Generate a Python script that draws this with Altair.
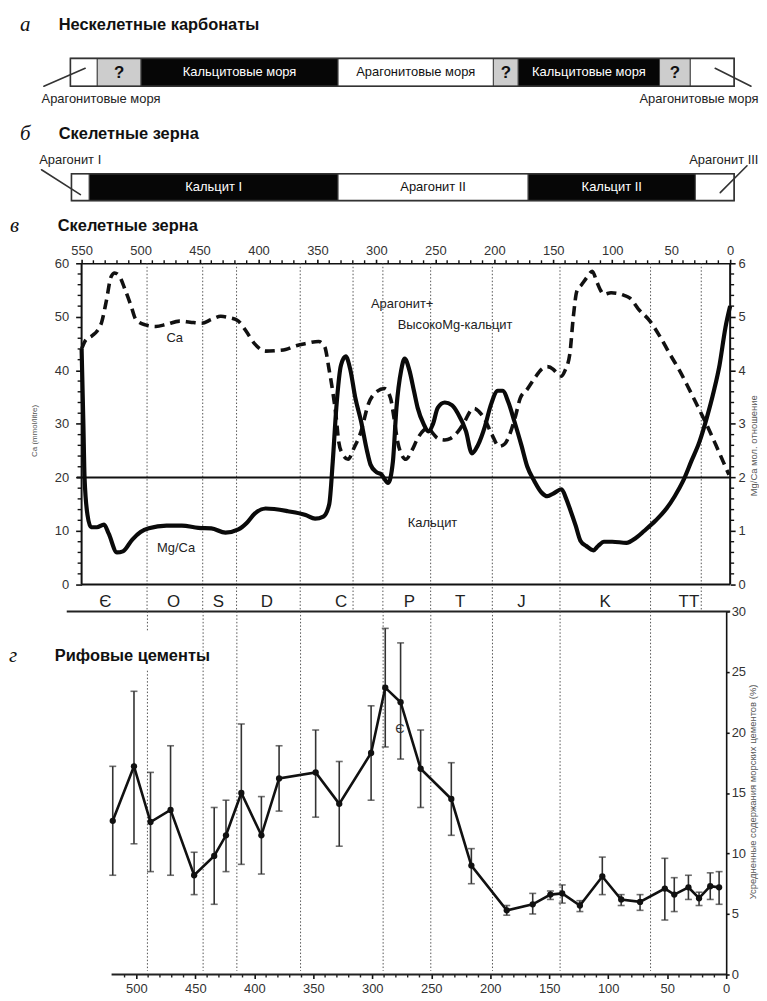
import altair as alt
import pandas as pd

# ---------------- data ----------------
# Panel a: non-skeletal carbonates, segments (Ma)
A_START = [559.5, 536.7, 499.6, 332.5, 200.8, 179.7, 59.9, 33.8]
A_END = [536.7, 499.6, 332.5, 200.8, 179.7, 59.9, 33.8, -3.4]
A_KIND = ["arag", "unk", "calc", "arag", "unk", "calc", "unk", "arag"]
A_LABEL = ["", "?", "Кальцитовые моря", "Арагонитовые моря", "?", "Кальцитовые моря", "?", ""]

# Panel b: skeletal grains
B_START = [558.6, 543.5, 332.5, 171.3, 29.5]
B_END = [543.5, 332.5, 171.3, 29.5, -3.4]
B_KIND = ["arag", "calc", "arag", "calc", "arag"]
B_LABEL = ["", "Кальцит I", "Арагонит II", "Кальцит II", ""]

# Panel c: Ca (dashed, left axis) and Mg/Ca (solid, right axis)
CA_AGE = [550, 547, 541, 537, 533, 529, 525, 522, 518, 513, 508, 504, 496, 487, 478, 467, 458, 448,
          440, 432, 424, 417, 411, 403, 394, 385, 377, 368, 360, 349, 344, 340, 337, 334, 332, 329,
          324, 319, 313, 307, 300, 293, 288, 285, 282, 278, 275, 270, 265, 260, 256, 252, 248, 242,
          237, 231, 225, 220, 217, 213, 208, 202, 196, 191, 187, 182, 178, 172, 166, 160, 155, 150,
          147, 143, 140, 136, 133, 130, 126, 121, 117, 113, 110, 107, 101, 96, 90, 85, 78, 68, 60,
          51, 43, 35, 28, 20, 12, 6, 1]
CA_VAL = [44, 45.5, 46.5, 47.3, 49, 53, 57.5, 58.2, 57.6, 55, 52, 49.5, 48.5, 48.2, 48.6, 49.2, 49,
          48.8, 49.5, 50.1, 49.8, 49.2, 47.5, 44.9, 43.6, 43.7, 43.9, 44.6, 45, 45.4, 44.5, 40, 36,
          31, 26.7, 24.5, 23.4, 25.5, 28.6, 33.6, 36, 36.6, 34.8, 31, 26.7, 24, 23.4, 25, 27.3, 28.8,
          29.2, 28.2, 27.3, 27, 27.3, 28.5, 30.5, 32.5, 32.9, 32.3, 30.8, 28, 25.8, 26.3, 28, 31.5,
          34.8, 36.5, 38.5, 40.2, 40.7, 40.2, 39.5, 38.9, 40, 43, 50, 54.8, 56, 57.5, 58.5, 56.5, 55,
          54.2, 54.5, 54.4, 54, 53.5, 51.5, 49.2, 46.5, 43, 40, 36.6, 33.5, 29.9, 26, 23, 20.5]

MG_AGE = [550, 548.5, 547.5, 545, 542, 537, 531, 527, 520, 515, 507, 500, 493, 478, 465, 451, 440,
          428, 417, 410, 403, 394, 375, 360, 352, 345, 340, 337, 334, 330, 326, 322, 318, 313, 308,
          305, 300, 296, 290, 286, 283, 279, 276, 272, 268, 265, 260, 256, 252, 248, 242, 236, 231,
          224, 219, 214, 208, 203, 197, 193, 188, 183, 177, 172, 166, 160, 155, 150, 143, 139, 136,
          131, 127, 122, 116, 112, 107, 100, 88, 80, 73, 63, 54, 47, 40, 33, 26, 20, 14, 9, 4, 0]
MG_VAL = [4.4, 3.0, 2.0, 1.3, 1.07, 1.07, 1.12, 0.95, 0.6, 0.62, 0.84, 0.98, 1.05, 1.1, 1.1, 1.06,
          1.05, 0.97, 1.03, 1.15, 1.33, 1.42, 1.37, 1.3, 1.23, 1.27, 1.5, 2.3, 3.3, 4.1, 4.26, 4.0,
          3.5, 3.05, 2.5, 2.24, 2.1, 2.06, 1.9, 2.3, 3.3, 4.0, 4.22, 4.0, 3.6, 3.3, 3.0, 2.86, 3.0,
          3.3, 3.4, 3.35, 3.2, 2.86, 2.45, 2.6, 2.95, 3.35, 3.62, 3.62, 3.4, 3.05, 2.6, 2.2, 1.93,
          1.72, 1.65, 1.7, 1.78, 1.6, 1.42, 1.1, 0.82, 0.72, 0.64, 0.72, 0.8, 0.8, 0.78, 0.87, 1.0,
          1.2, 1.42, 1.65, 1.93, 2.3, 2.67, 3.1, 3.6, 4.1, 4.8, 5.2]

PERIOD_NAMES = ["Є", "O", "S", "D", "C", "P", "T", "J", "K", "TT"]
PERIOD_MID = [530, 472, 434, 393, 330, 272, 229, 177, 106, 35]
BOUND_C = [494.5, 447.3, 418.6, 364.6, 319.8, 294.5, 254, 201.7, 144.3, 67.5, 24.5]
BOUND_D = [490.6, 443.4, 414.8, 360.8, 290.8, 250.4, 198.1, 140.8, 64.1]

# Panel d: reef cements (%), mean and error bar limits
CEM_AGE = [520, 502, 488, 471, 451, 434, 424, 411, 394, 379, 348, 328, 301, 289, 276, 259, 233,
           216, 186, 164, 149, 139, 124, 105, 89, 73, 52, 44, 32, 23, 13.5, 6]
CEM_VAL = [12.7, 17.2, 12.6, 13.6, 8.2, 9.8, 11.5, 15.0, 11.5, 16.2, 16.7, 14.1, 18.3, 23.7, 22.5,
           17.0, 14.5, 9.0, 5.3, 5.8, 6.6, 6.7, 5.7, 8.1, 6.2, 6.0, 7.1, 6.6, 7.2, 6.3, 7.3, 7.2]
CEM_LO = [8.2, 10.8, 8.5, 8.2, 6.6, 5.8, 8.5, 9.1, 8.3, 13.5, 13.0, 10.6, 14.4, 18.8, 17.8, 13.8,
          11.5, 7.5, 4.9, 5.0, 6.2, 5.9, 5.2, 6.6, 5.7, 5.3, 4.5, 5.2, 6.2, 5.7, 6.2, 5.8]
CEM_HI = [17.2, 23.4, 16.7, 18.9, 10.1, 13.8, 14.4, 20.7, 14.7, 18.9, 20.2, 17.6, 22.2, 28.6, 27.4,
          20.2, 17.5, 10.4, 5.7, 6.7, 6.9, 7.4, 6.1, 9.7, 6.6, 6.6, 9.6, 8.0, 8.2, 6.8, 8.4, 8.5]

TOP_TICKS = [550, 500, 450, 400, 350, 300, 250, 200, 150, 100, 50, 0]
D_TICKS = [500, 450, 400, 350, 300, 250, 200, 150, 100, 50, 0]

# ---------------- layout ----------------
FONT = "Liberation Sans"
SERIF = "Liberation Serif"
WC, WD = 652, 648
HA, HB, HC, HD = 102, 152, 350, 365
TITLE_FS = 16.5
BAR_FS = 13

XC = alt.Scale(domain=[550, 0], nice=False, zero=False)
XD = alt.Scale(domain=[546.4, 0], nice=False, zero=False)
YCA = alt.Scale(domain=[-5.0155, 60], nice=False, zero=False)
YMG = alt.Scale(domain=[-0.50155, 6], nice=False, zero=False)
YD = alt.Scale(domain=[0, 30], nice=False, zero=False)

AX = dict(labelFontSize=13, labelFont=FONT, labelColor="#333", grid=False, labelFlush=False,
          titleFont=FONT, titleFontWeight="normal", titleColor="#555", tickColor="#111",
          tickWidth=1.6, domainColor="#111", domainWidth=1.6)
AX_TOP = alt.Axis(orient="top", values=TOP_TICKS, title=None, tickSize=4, labelPadding=2, **AX)
AX_LEFT = alt.Axis(orient="left", values=[0, 10, 20, 30, 40, 50, 60], domain=False, tickSize=6,
                   labelPadding=7, title="Ca (mmol/litre)", titleFontSize=8, titleAngle=270,
                   titleX=-43, titleY=168, **AX)
AX_RIGHT = alt.Axis(orient="right", values=[0, 1, 2, 3, 4, 5, 6], domain=False, tickSize=5,
                    labelPadding=3, title="Mg/Ca мол. отношение", titleFontSize=9.5,
                    titleAngle=270, titleX=28, titleY=183, **AX)
AX_DX = alt.Axis(orient="bottom", values=D_TICKS, domain=False, title=None, tickSize=4,
                 labelPadding=4, **AX)
AX_DY = alt.Axis(orient="right", values=[0, 5, 10, 15, 20, 25, 30], tickSize=3, labelPadding=2,
                 title="Усредненные содержания морских цементов (%)", titleFontSize=9.5,
                 titleAngle=270, titleX=31, titleY=181, **AX)


def label(text, x, y, size, weight="normal", style="normal", family=FONT, align="left",
          color="#111"):
    return alt.Chart(pd.DataFrame({"t": [text]})).mark_text(
        align=align, baseline="middle", fontSize=size, fontWeight=weight, fontStyle=style,
        font=family, color=color
    ).encode(x=alt.value(x), y=alt.value(y), text="t:N")


def xb(field):
    return alt.X(field, type="quantitative", scale=XC, axis=None)


def xc(field):
    return alt.X(field, type="quantitative", scale=XC, axis=AX_TOP)


def yca(field):
    return alt.Y(field, type="quantitative", scale=YCA, axis=AX_LEFT)


def xd(field):
    return alt.X(field, type="quantitative", scale=XD, axis=AX_DX)


def yd(field):
    return alt.Y(field, type="quantitative", scale=YD, axis=AX_DY)


def bar_panel(starts, ends, kinds, labels, y0, y1, fs):
    df = pd.DataFrame({"s": starts, "e": ends, "kind": kinds, "label": labels})
    df["mid"] = (df["s"] + df["e"]) / 2
    rect = alt.Chart(df).mark_rect(stroke="#444", strokeWidth=1).encode(
        x=xb("s"), x2="e", y=alt.value(y0), y2=alt.value(y1),
        color=alt.Color("kind:N", scale=alt.Scale(domain=["arag", "calc", "unk"],
                                                  range=["#ffffff", "#060606", "#cdcdcd"]),
                        legend=None))
    frame = alt.Chart(pd.DataFrame({"s": [starts[0]], "e": [ends[-1]]})).mark_rect(
        fillOpacity=0, stroke="#333", strokeWidth=1.6).encode(
        x=xb("s"), x2="e", y=alt.value(y0), y2=alt.value(y1))
    ym = (y0 + y1) / 2
    t_white = alt.Chart(df).transform_filter("datum.kind == 'calc'").mark_text(
        font=FONT, fontSize=fs, color="#ffffff").encode(x=xb("mid"), y=alt.value(ym), text="label:N")
    t_black = alt.Chart(df).transform_filter("datum.kind == 'arag'").mark_text(
        font=FONT, fontSize=fs, color="#111").encode(x=xb("mid"), y=alt.value(ym), text="label:N")
    t_q = alt.Chart(df).transform_filter("datum.kind == 'unk'").mark_text(
        font=FONT, fontSize=17, fontWeight="bold", color="#111").encode(
        x=xb("mid"), y=alt.value(ym + 1), text="label:N")
    return [rect, frame, t_white, t_black, t_q]


def arrows(x1, x2, y1, y2):
    df = pd.DataFrame({"a": [x1], "b": [x2]})
    return alt.Chart(df).mark_rule(color="#333", strokeWidth=1.6, strokeCap="round").encode(
        x=xb("a"), x2="b", y=alt.value(y1), y2=alt.value(y2))


def side_text(text, age, y, align):
    return alt.Chart(pd.DataFrame({"a": [age], "t": [text]})).mark_text(
        font=FONT, fontSize=13, align=align, baseline="middle", color="#222").encode(
        x=xb("a"), y=alt.value(y), text="t:N")


# invisible anchor fixing the left edge of the layout (plot areas start 74 px right of it)
anchor = alt.Chart(pd.DataFrame({"t": [0]})).mark_rule(strokeOpacity=0, strokeWidth=0.5).encode(
    x=alt.value(-74), y=alt.value(0), y2=alt.value(2))

# ---- panel a ----
pA = alt.layer(
    anchor,
    *bar_panel(A_START, A_END, A_KIND, A_LABEL, 48, 76, BAR_FS),
    arrows(582, 547, 76, 58),
    arrows(-17.7, 12.7, 76, 58),
    side_text("Арагонитовые моря", 584, 89, "left"),
    side_text("Арагонитовые моря", -24, 89, "right"),
    label("а", -62, 14, 21, style="italic", family=SERIF),
    label("Нескелетные карбонаты", -23, 14, TITLE_FS, weight="bold"),
).properties(width=WC, height=HA)

# ---- panel b ----
pB = alt.layer(
    *bar_panel(B_START, B_END, B_KIND, B_LABEL, 62, 89, BAR_FS),
    arrows(584, 551, 58, 83),
    arrows(-14.3, 8.4, 54, 81),
    side_text("Арагонит I", 586, 48, "left"),
    side_text("Арагонит III", -24, 48, "right"),
    label("б", -62, 22, 21, style="italic", family=SERIF),
    label("Скелетные зерна", -23, 22, TITLE_FS, weight="bold"),
).properties(width=WC, height=HB)

# ---- panel c ----
dfCa = pd.DataFrame({"age": CA_AGE, "v": CA_VAL, "i": range(len(CA_AGE))})
dfMg = pd.DataFrame({"age": MG_AGE, "v": MG_VAL, "i": range(len(MG_AGE))})

h20 = alt.Chart(pd.DataFrame({"a": [554], "b": [0], "v": [20]})).mark_rule(
    color="#111", strokeWidth=2.2).encode(x=xc("a"), x2="b", y=yca("v"))
frame_c = alt.Chart(pd.DataFrame({"a": [550, 0, 550], "b": [0, 0, 550], "v": [0, 0, 0],
                                  "w": [0, 60, 60]})).mark_rule(
    color="#111", strokeWidth=2).encode(x=xc("a"), x2="b", y=yca("v"), y2="w")
bounds_c = alt.Chart(pd.DataFrame({"age": BOUND_C, "y1": [60] * len(BOUND_C),
                                   "y2": [-5] * len(BOUND_C)})).mark_rule(
    color="#555", strokeWidth=1, strokeDash=[1.5, 2]).encode(x=xc("age"), y=yca("y1"), y2="y2")
periods = alt.Chart(pd.DataFrame({"age": PERIOD_MID, "n": PERIOD_NAMES,
                                  "v": [-3.2] * len(PERIOD_MID)})).mark_text(
    font=FONT, fontSize=17, color="#222").encode(x=xc("age"), y=yca("v"), text="n:N")
ann = alt.Chart(pd.DataFrame({
    "age": [478, 486, 304.6, 282, 273.4],
    "v": [46, 6.9, 52.3, 48.4, 11.4],
    "t": ["Ca", "Mg/Ca", "Арагонит+", "ВысокоMg-кальцит", "Кальцит"]})).mark_text(
    font=FONT, fontSize=13, align="left", baseline="middle", color="#222").encode(
    x=xc("age"), y=yca("v"), text="t:N")
minor_top = alt.Chart(pd.DataFrame({"age": [a for a in range(540, 0, -10) if a % 50]})).mark_rule(
    color="#111", strokeWidth=1.4).encode(x=xc("age"), y=alt.value(-3), y2=alt.value(0))
minor_left = alt.Chart(pd.DataFrame({"v": [v for v in range(2, 60, 2) if v % 10]})).mark_rule(
    color="#111", strokeWidth=1.4).encode(y=yca("v"), x=alt.value(-4), x2=alt.value(0))
ca_line = alt.Chart(dfCa).mark_line(color="#111", strokeWidth=3.6, strokeDash=[10, 6],
                                    interpolate="monotone").encode(
    x=xc("age"), y=yca("v"), order="i:Q")

ca_group = alt.layer(
    bounds_c, h20, frame_c, periods, ann, minor_top, minor_left,
    label("в", -72, -37, 21, style="italic", family=SERIF),
    label("Скелетные зерна", -24, -37, TITLE_FS, weight="bold"),
    ca_line,
)

minor_right = alt.Chart(pd.DataFrame({"v": [round(k * 0.2, 1) for k in range(1, 30) if k % 5]})).mark_rule(
    color="#111", strokeWidth=1.4).encode(y=alt.Y("v:Q", scale=YMG, axis=AX_RIGHT),
                                          x=alt.value(WC), x2=alt.value(WC + 4))
mg_line = alt.Chart(dfMg).mark_line(color="#0a0a0a", strokeWidth=4.2, interpolate="monotone").encode(
    x=xc("age"), y=alt.Y("v:Q", scale=YMG, axis=AX_RIGHT), order="i:Q")
mg_group = alt.layer(minor_right, mg_line)

pC = alt.layer(ca_group, mg_group).resolve_scale(y="independent").properties(width=WC, height=HC)

# ---- panel d ----
dfD = pd.DataFrame({"age": CEM_AGE, "v": CEM_VAL, "lo": CEM_LO, "hi": CEM_HI})
err = alt.Chart(dfD).mark_rule(color="#333", strokeWidth=1.6).encode(
    x=xd("age"), y=yd("lo"), y2="hi")
cap_lo = alt.Chart(dfD).mark_tick(orient="horizontal", size=7, thickness=1.6, color="#333").encode(
    x=xd("age"), y=yd("lo"))
cap_hi = alt.Chart(dfD).mark_tick(orient="horizontal", size=7, thickness=1.6, color="#333").encode(
    x=xd("age"), y=yd("hi"))

segs_age, segs_y1, segs_y2 = [], [], []
for k, a in enumerate(BOUND_D):
    if k == 0:
        segs_age += [a, a]
        segs_y1 += [30, 25.1]
        segs_y2 += [28.3, 0.3]
    else:
        segs_age.append(a)
        segs_y1.append(30)
        segs_y2.append(0.3)
bounds_d = alt.Chart(pd.DataFrame({"age": segs_age, "y1": segs_y1, "y2": segs_y2})).mark_rule(
    color="#555", strokeWidth=1, strokeDash=[1.5, 2]).encode(x=xd("age"), y=yd("y1"), y2="y2")
lines_d = alt.Chart(pd.DataFrame({"a": [559, 521], "b": [-3.4, 0], "v": [30, 0]})).mark_rule(
    color="#222", strokeWidth=2).encode(x=xd("a"), x2="b", y=yd("v"))
minor_bot = alt.Chart(pd.DataFrame({"age": [a for a in range(510, 0, -10) if a % 50]})).mark_rule(
    color="#222", strokeWidth=1.4).encode(x=xd("age"), y=alt.value(HD), y2=alt.value(HD + 3))
stray = alt.Chart(pd.DataFrame({"age": [276.5], "v": [20.3], "t": ["Є"]})).mark_text(
    font=FONT, fontSize=13, color="#333").encode(x=xd("age"), y=yd("v"), text="t:N")
cem_line = alt.Chart(dfD).mark_line(color="#111", strokeWidth=2.6).encode(
    x=xd("age"), y=yd("v"), order=alt.Order("age:Q", sort="descending"))
cem_pts = alt.Chart(dfD).mark_circle(size=40, color="#111", opacity=1).encode(
    x=xd("age"), y=yd("v"))

pD = alt.layer(
    lines_d, bounds_d, err, cap_lo, cap_hi, minor_bot, stray,
    label("г", -73, 45, 21, style="italic", family=SERIF),
    label("Рифовые цементы", -27, 45, TITLE_FS, weight="bold"),
    cem_line, cem_pts,
).properties(width=WD, height=HD)

chart = alt.vconcat(pA, pB, pC, pD, spacing=0, bounds="flush").properties(
    padding={"left": 0, "top": 0, "right": 0, "bottom": 0}
).configure(font=FONT).configure_view(stroke=None)

chart.save("out.html", embed_options={"renderer": "svg", "actions": False})
